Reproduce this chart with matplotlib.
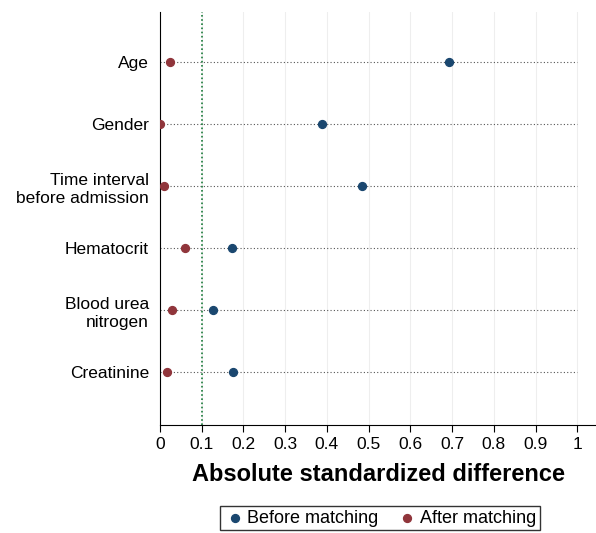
import matplotlib.pyplot as plt
import numpy as np

plt.rcParams['font.family'] = ['Liberation Sans', 'DejaVu Sans']

variables = ["Age", "Gender", "Time interval\nbefore admission", "Hematocrit",
             "Blood urea\nnitrogen", "Creatinine"]
before = [0.693, 0.388, 0.484, 0.173, 0.127, 0.175]
after = [0.024, 0.0, 0.010, 0.060, 0.029, 0.017]

fig = plt.figure(figsize=(5.96, 5.33), dpi=100)
ax = fig.add_axes([160/596, 1 - 425/533, 436/596, 413/533])

y = np.arange(1, len(variables) + 1)
for yi in y:
    ax.plot([0, 1], [yi, yi], color="#555555", lw=0.8, ls=(0, (1, 2)), zorder=1)
for xv in np.arange(0.1, 1.05, 0.1):
    ax.axvline(xv, color="#eeeeee", lw=0.8, zorder=0)
ax.axvline(0.1, color="#1a7a3a", lw=1.2, ls=(0, (1, 1.5)), zorder=2)

ax.scatter(before, y, color="#1a476f", s=32, zorder=3, label="Before matching")
ax.scatter(after, y, color="#90353b", s=32, zorder=3, label="After matching")

ax.set_xlim(0, 1.045)
ax.set_ylim(6.85, 0.19)
ax.set_yticks(y)
ax.set_yticklabels(variables, fontsize=12.5, ha="right", linespacing=1.3)
ax.set_xticks(np.arange(0, 1.01, 0.1))
ax.set_xticklabels(["0", "0.1", "0.2", "0.3", "0.4", "0.5", "0.6", "0.7", "0.8", "0.9", "1"], fontsize=12.5)
ax.tick_params(axis="y", length=0, pad=8)
ax.tick_params(axis="x", length=5)
ax.spines["top"].set_visible(False)
ax.spines["right"].set_visible(False)
ax.set_xlabel("Absolute standardized difference", fontsize=17, fontweight="bold", labelpad=8)

fig.legend(loc="lower center", bbox_to_anchor=(380/596, -0.012), ncol=2, fontsize=13,
           fancybox=False, edgecolor="black", handletextpad=0.1, columnspacing=1.0,
           borderpad=0.2, handlelength=1.2)

fig.savefig("out.png", dpi=100)
